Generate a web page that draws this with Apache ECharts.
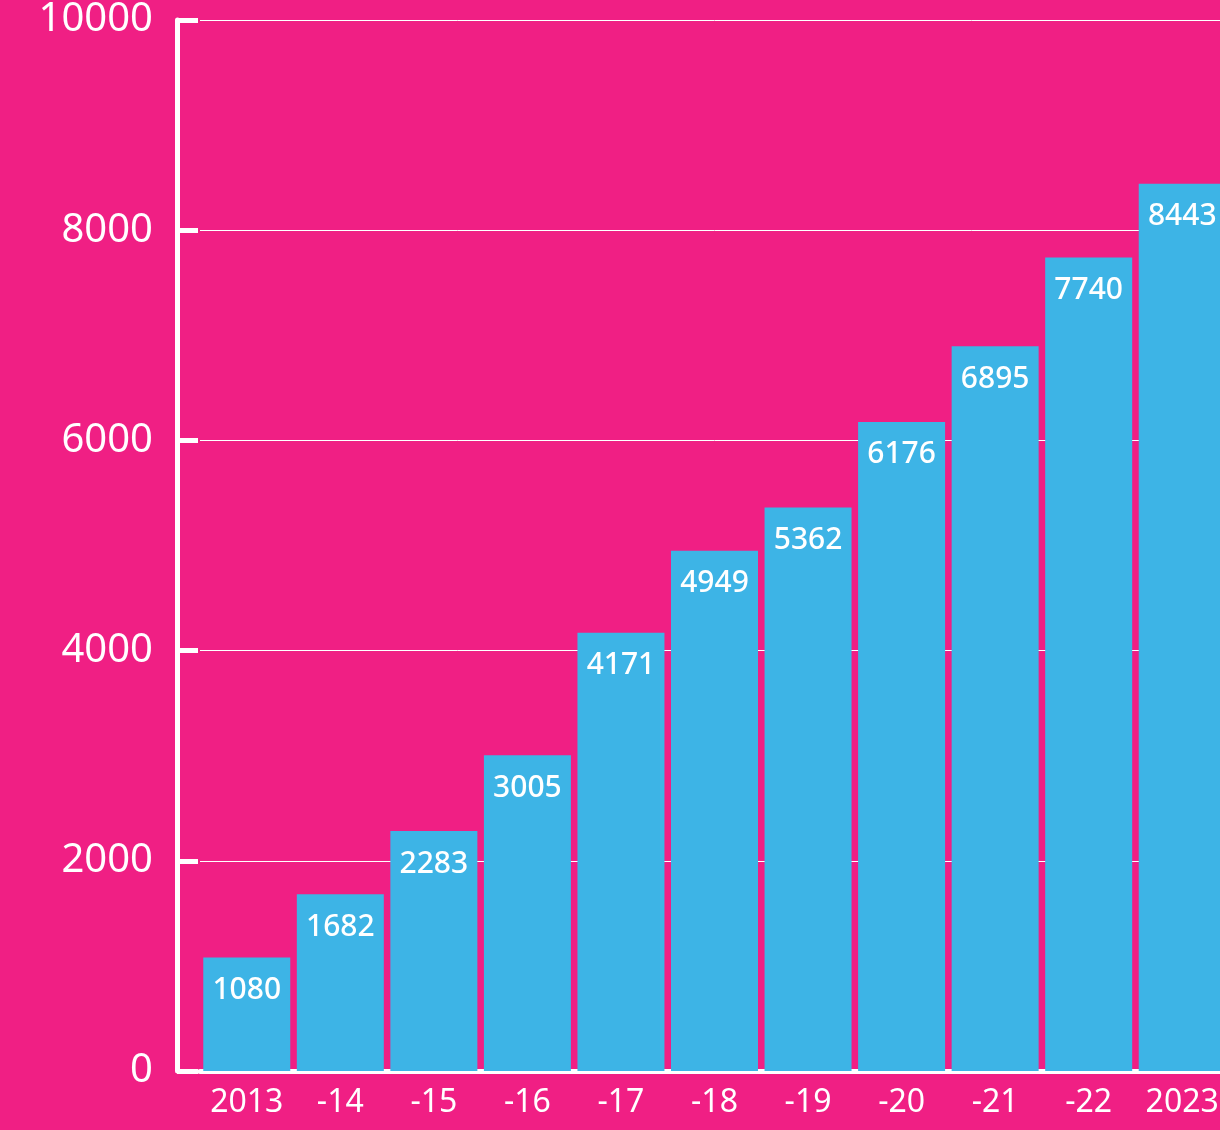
<!DOCTYPE html>
<html>
<head>
    <meta charset="utf-8">
    <title>ECharts</title>
    <script src="https://cdn.jsdelivr.net/npm/echarts@6/dist/echarts.min.js"></script>
    <style>
    *{margin:0px; padding:0px;}
    html, body{background:#F01F84; overflow:hidden; width:1220px; height:1130px;}
    #main{width:1229px; height:1130px;}
    </style>
</head>
<body>
    <div id="main"></div>
    <script type="text/javascript">
        var years = ['2013', '-14', '-15', '-16', '-17', '-18', '-19', '-20', '-21', '-22', '2023'];
        var counts = [1080, 1682, 2283, 3005, 4171, 4949, 5362, 6176, 6895, 7740, 8443];
        var yTicks = [0, 2000, 4000, 6000, 8000, 10000];

        var myChart = echarts.init(document.getElementById('main'));

        var option = {
            backgroundColor: '#F01F84',
            animation: false,
            grid: {
                left: 200,
                top: 20,
                bottom: 59,
                right: 0
            },
            xAxis: {
                type: 'category',
                data: years,
                axisLine: {lineStyle: {color: '#fff', width: 5}},
                axisTick: {show: false},
                axisLabel: {
                    interval: 0,
                    color: '#fff',
                    fontSize: 32,
                    fontFamily: 'Noto Sans',
                    margin: 16
                }
            },
            yAxis: {
                type: 'value',
                min: yTicks[0],
                max: yTicks[yTicks.length - 1],
                interval: yTicks[1] - yTicks[0],
                offset: 23,
                axisLine: {show: true, lineStyle: {color: '#fff', width: 5}},
                axisTick: {show: true, inside: true, length: 21, lineStyle: {color: '#fff', width: 5}},
                splitLine: {lineStyle: {color: '#fff', width: 1}},
                axisLabel: {
                    color: '#fff',
                    fontSize: 40,
                    fontFamily: 'Noto Sans',
                    margin: 24,
                    padding: [14, 0, 0, 0],
                    formatter: function (v) { return String(v); }
                }
            },
            series: [{
                type: 'bar',
                data: counts,
                barWidth: 87,
                itemStyle: {color: '#3DB4E6'},
                label: {
                    show: true,
                    position: 'insideTop',
                    distance: 18,
                    color: '#fff',
                    fontSize: 30,
                    fontWeight: 500,
                    fontFamily: 'Noto Sans'
                }
            }]
        };

        myChart.setOption(option);
    </script>
</body>
</html>
